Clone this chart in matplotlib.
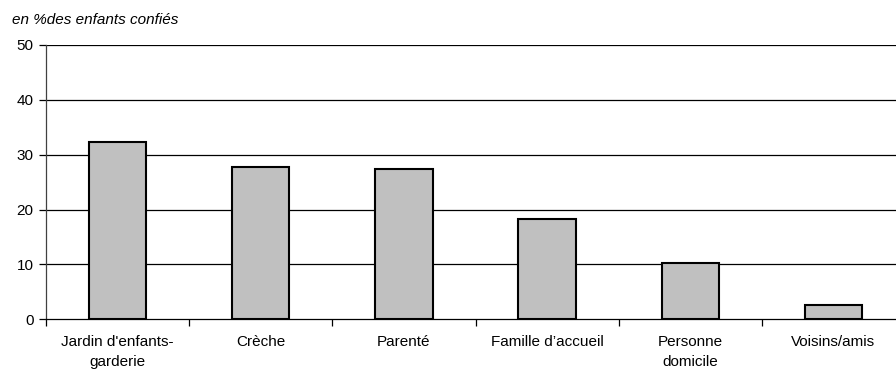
import matplotlib.pyplot as plt
import numpy as np

plt.rcParams["font.family"] = ["Liberation Sans", "DejaVu Sans"]

categories = ["Jardin d'enfants-\ngarderie", "Crèche", "Parenté",
              "Famille d\u2019accueil", "Personne\ndomicile", "Voisins/amis"]
values = [32.3, 27.8, 27.4, 18.3, 10.2, 2.6]
y_ticks = [0, 10, 20, 30, 40, 50]

fig = plt.figure(figsize=(8.96, 3.78), dpi=100)
ax = fig.add_axes([46 / 896, 58.7 / 378, 859 / 896, 274.3 / 378])

x = np.arange(len(categories))
ax.bar(x, values, width=0.4, color="#c0c0c0", edgecolor="black", linewidth=1.5, zorder=3)

ax.set_xlim(-0.5, len(categories) - 0.5)
ax.set_ylim(0, 50)
ax.set_yticks(y_ticks)
ax.set_yticklabels([str(v) for v in y_ticks], fontsize=11)
for v in y_ticks[1:]:
    ax.axhline(v, color="black", linewidth=0.9, zorder=1)

ax.set_xticks(x)
ax.set_xticklabels(categories, fontsize=11, linespacing=1.55, va="top")
ax.set_xticks(np.arange(len(categories) + 1) - 0.5, minor=True)
ax.tick_params(axis="x", which="major", length=0, pad=11.5)
ax.tick_params(axis="x", which="minor", length=5, width=0.9, direction="out")
ax.tick_params(axis="y", length=5, width=0.9, pad=4)

for s in ["top", "right"]:
    ax.spines[s].set_visible(False)
ax.spines["left"].set_linewidth(0.9)
ax.spines["bottom"].set_linewidth(0.9)
ax.spines["left"].set_color("#404040")

fig.text(12 / 896, 1 - 20 / 378, "en %des enfants confiés", fontsize=11,
         style="italic", va="center", ha="left")

fig.savefig("out.png", dpi=100)
